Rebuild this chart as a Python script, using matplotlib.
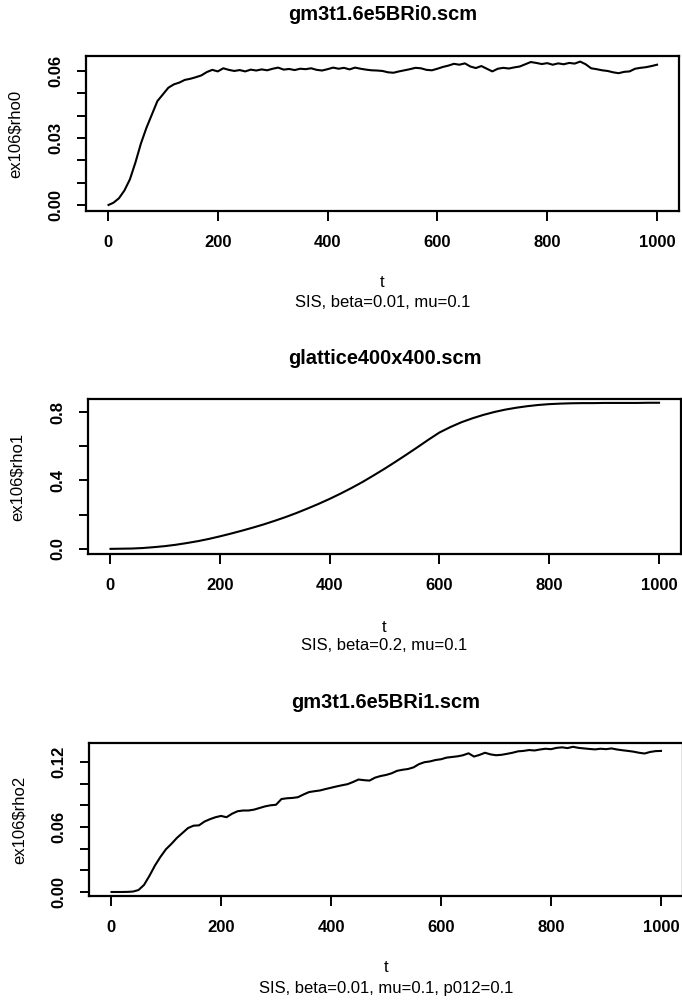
"""Three SIS epidemic curves, R base-graphics look."""

import numpy as np
import matplotlib
matplotlib.use("Agg")
import matplotlib.pyplot as plt

plt.rcParams["font.family"] = ["Liberation Sans", "DejaVu Sans"]

# ---- data ----
t_fine = [1] + list(range(10, 1001, 10))
t_coarse = [1] + list(range(20, 1001, 20))

rho0 = [
    0.0000, 0.0010, 0.0030, 0.0065, 0.0115, 0.0190, 0.0275, 0.0345, 0.0405, 0.0465,
    0.0495, 0.0525, 0.0540, 0.0548, 0.0560, 0.0565, 0.0572, 0.0580, 0.0595, 0.0605,
    0.0598, 0.0612, 0.0605, 0.0600, 0.0604, 0.0598, 0.0606, 0.0602, 0.0607, 0.0603,
    0.0610, 0.0615, 0.0606, 0.0609, 0.0604, 0.0610, 0.0608, 0.0612, 0.0605, 0.0602,
    0.0608, 0.0615, 0.0610, 0.0614, 0.0607, 0.0615, 0.0610, 0.0606, 0.0603, 0.0602,
    0.0600, 0.0594, 0.0592, 0.0598, 0.0603, 0.0608, 0.0614, 0.0612, 0.0605, 0.0603,
    0.0610, 0.0618, 0.0624, 0.0632, 0.0628, 0.0634, 0.0620, 0.0613, 0.0622, 0.0610,
    0.0598, 0.0610, 0.0614, 0.0611, 0.0616, 0.0620, 0.0630, 0.0640, 0.0636, 0.0631,
    0.0635, 0.0628, 0.0634, 0.0630, 0.0636, 0.0633, 0.0642, 0.0630, 0.0612, 0.0608,
    0.0603, 0.0600, 0.0594, 0.0590, 0.0596, 0.0598, 0.0610, 0.0614, 0.0617, 0.0622,
    0.0628,
]

rho1 = [
    0.000, 0.001, 0.002, 0.005, 0.010, 0.016, 0.024, 0.034, 0.045, 0.058,
    0.073, 0.089, 0.106, 0.124, 0.143, 0.164, 0.186, 0.210, 0.236, 0.263,
    0.292, 0.323, 0.356, 0.391, 0.429, 0.468, 0.509, 0.551, 0.594, 0.638,
    0.680, 0.712, 0.740, 0.763, 0.783, 0.800, 0.814, 0.825, 0.834, 0.841,
    0.846, 0.849, 0.851, 0.852, 0.852, 0.853, 0.853, 0.853, 0.853, 0.854,
    0.854,
]

rho2 = [
    0.0000, 0.0000, 0.0000, 0.0001, 0.0004, 0.0018, 0.0065, 0.0150, 0.0245, 0.0325,
    0.0395, 0.0445, 0.0500, 0.0545, 0.0590, 0.0612, 0.0615, 0.0650, 0.0672, 0.0690,
    0.0702, 0.0690, 0.0722, 0.0745, 0.0752, 0.0752, 0.0760, 0.0775, 0.0790, 0.0800,
    0.0805, 0.0858, 0.0865, 0.0868, 0.0875, 0.0900, 0.0922, 0.0930, 0.0937, 0.0950,
    0.0962, 0.0974, 0.0985, 0.0995, 0.1015, 0.1038, 0.1032, 0.1028, 0.1055, 0.1070,
    0.1080, 0.1095, 0.1118, 0.1128, 0.1135, 0.1150, 0.1180, 0.1198, 0.1205, 0.1218,
    0.1225, 0.1240, 0.1246, 0.1252, 0.1262, 0.1280, 0.1250, 0.1265, 0.1285, 0.1270,
    0.1262, 0.1266, 0.1275, 0.1285, 0.1298, 0.1302, 0.1310, 0.1306, 0.1315, 0.1322,
    0.1318, 0.1330, 0.1335, 0.1328, 0.1340, 0.1330, 0.1325, 0.1320, 0.1316, 0.1322,
    0.1318, 0.1325, 0.1315, 0.1308, 0.1302, 0.1295, 0.1285, 0.1278, 0.1292, 0.1300,
    0.1302,
]

titles = ["gm3t1.6e5BRi0.scm", "glattice400x400.scm", "gm3t1.6e5BRi1.scm"]
ylabels = ["ex106$rho0", "ex106$rho1", "ex106$rho2"]
subtitles = [
    "SIS, beta=0.01, mu=0.1",
    "SIS, beta=0.2, mu=0.1",
    "SIS, beta=0.01, mu=0.1, p012=0.1",
]
x_ticks = [0, 200, 400, 600, 800, 1000]
y_ticks = [
    [0.0, 0.01, 0.02, 0.03, 0.04, 0.05, 0.06],
    [0.0, 0.2, 0.4, 0.6, 0.8],
    [0.0, 0.02, 0.04, 0.06, 0.08, 0.10, 0.12],
]
y_labels = [
    ["0.00", "", "", "0.03", "", "", "0.06"],
    ["0.0", "", "0.4", "", "0.8"],
    ["0.00", "", "", "0.06", "", "", "0.12"],
]
series = [(t_fine, rho0), (t_coarse, rho1), (t_fine, rho2)]

# ---- layout in pixels (figure is 682 x 1000) ----
W, H = 682, 1000
boxes = [(86, 679, 56, 211), (88, 681, 399, 554), (89, 683, 743, 896)]
ylims = [(-0.0027, 0.0667), (-0.030, 0.876), (-0.0037, 0.1375)]
title_y = [15, 359, 702]
tlab_y = [283, 627, 968]
sub_y = [303, 645, 988]
ylab_x = [15, 17, 19]

fig = plt.figure(figsize=(W / 100, H / 100), dpi=100)

for i in range(3):
    l, r, top, bot = boxes[i]
    ax = fig.add_axes([l / W, 1 - bot / H, (r - l) / W, (bot - top) / H])
    x, y = series[i]
    ax.plot(x, y, color="black", lw=1.5)
    ax.set_xlim(-40, 1040)
    ax.set_ylim(*ylims[i])

    ax.set_xticks(x_ticks)
    ax.set_xticklabels([str(v) for v in x_ticks], fontsize=12, fontweight="bold")
    ax.set_yticks(y_ticks[i])
    ax.set_yticklabels(y_labels[i], fontsize=12, fontweight="bold",
                       rotation=90, va="center")
    ax.tick_params(axis="x", length=7, width=1.4, pad=10)
    ax.tick_params(axis="y", length=6.5, width=1.4, pad=10)
    for s in ax.spines.values():
        s.set_linewidth(1.6)

    cx = (l + r) / 2 / W
    fig.text(cx, 1 - title_y[i] / H, titles[i], ha="center", va="center",
             fontsize=14.4, fontweight="bold")
    fig.text(cx, 1 - tlab_y[i] / H, "t", ha="center", va="center", fontsize=12)
    fig.text(cx, 1 - sub_y[i] / H, subtitles[i], ha="center", va="center",
             fontsize=12)
    fig.text(ylab_x[i] / W, 1 - (top + bot) / 2 / H, ylabels[i], ha="center",
             va="center", rotation=90, fontsize=12)

fig.savefig("out.png", dpi=100)
